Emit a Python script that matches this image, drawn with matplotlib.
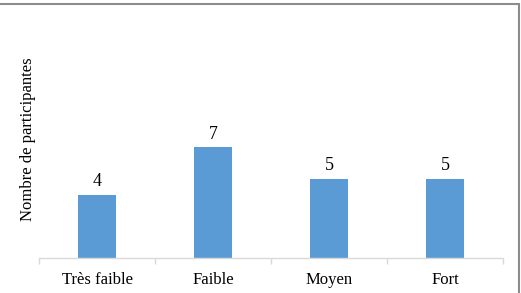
import matplotlib.pyplot as plt
from matplotlib.patches import Rectangle

categories = ['Très faible', 'Faible', 'Moyen', 'Fort']
participants = [4, 7, 5, 5]

plt.rcParams['font.family'] = ['Liberation Serif', 'DejaVu Serif']

fig = plt.figure(figsize=(5.21, 2.93), dpi=100)
ax = fig.add_axes([39 / 521, 35 / 293, 464 / 521, 238 / 293])

x = range(len(categories))
bars = ax.bar(x, participants, width=0.32, color='#5B9BD5')

for xi, v in zip(x, participants):
    ax.annotate(str(v), (xi, v), xytext=(0, 3), textcoords='offset points',
                ha='center', va='bottom', fontsize=13)

ax.set_xlim(-0.5, len(categories) - 0.5)
ax.set_ylim(0, 15)
ax.set_yticks([])
ax.set_xticks([i + 0.5 for i in range(-1, len(categories))], minor=False)
ax.set_xticklabels([])
ax.set_xticks(list(x), minor=True)
ax.set_xticklabels(categories, minor=True, fontsize=12)
ax.tick_params(axis='x', which='major', length=4, color='#D9D9D9', width=1)
ax.tick_params(axis='x', which='minor', length=0, pad=10)

for side in ['top', 'right', 'left']:
    ax.spines[side].set_visible(False)
ax.spines['bottom'].set_color('#D9D9D9')
ax.spines['bottom'].set_linewidth(1)

fig.text(28 / 521, 154 / 293, 'Nombre de participantes', rotation=90,
         ha='center', va='center', fontsize=12)

# cadre gris du graphique
left, bottom = -0.01, -0.05
right, top = 519 / 521, 1 - 4 / 293
fig.patches.append(Rectangle((left, bottom), right - left, top - bottom,
                             transform=fig.transFigure, fill=False,
                             edgecolor='#8C8C8C', linewidth=1.5))

fig.savefig('out.png', dpi=100)
